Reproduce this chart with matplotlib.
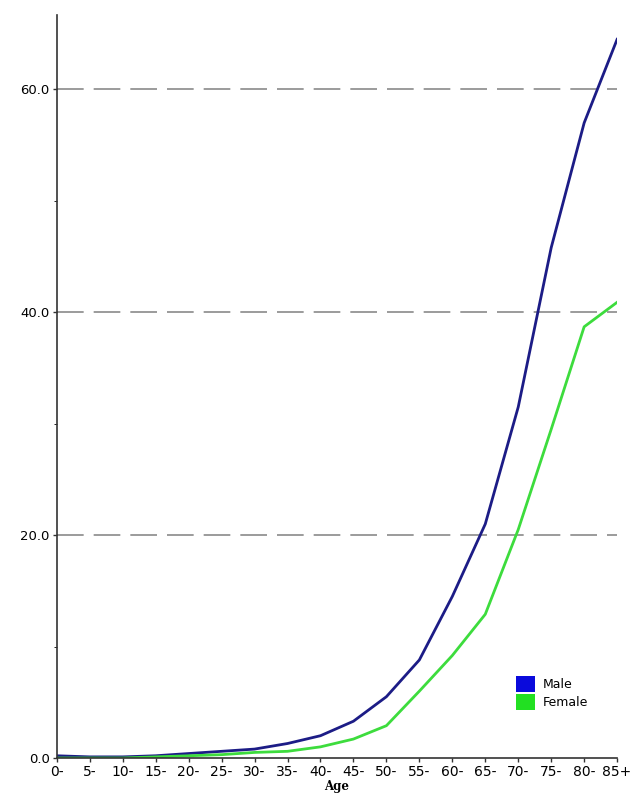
import numpy as np
import matplotlib.pyplot as plt
from matplotlib.patches import Patch

# Age groups and rates
ages = ['0-', '5-', '10-', '15-', '20-', '25-', '30-', '35-', '40-',
        '45-', '50-', '55-', '60-', '65-', '70-', '75-', '80-', '85+']
male = [0.2, 0.1, 0.1, 0.2, 0.4, 0.6, 0.8, 1.3, 2.0,
        3.3, 5.5, 8.8, 14.5, 21.0, 31.5, 45.8, 57.0, 64.5]
female = [0.0, 0.0, 0.0, 0.1, 0.2, 0.3, 0.5, 0.6, 1.0,
          1.7, 2.9, 6.0, 9.2, 12.9, 20.5, 29.5, 38.7, 40.9]
y_ticks = [0, 20, 40, 60]

male_line = '#1c1c86'
female_line = '#3ddc3d'

fig = plt.figure(figsize=(6.31, 8), dpi=100)
ax = fig.add_axes([0.090, 0.0525, 0.888, 0.929])

x = np.arange(len(ages))
ax.plot(x, male, color=male_line, lw=2)
ax.plot(x, female, color=female_line, lw=2)

# dashed horizontal grid
for v in y_ticks[1:]:
    ax.axhline(v, color='#8a8a8a', lw=1.2, dashes=(16, 6), zorder=0)

ax.set_xlim(0, 17)
ax.set_ylim(0, 66.7)
ax.set_xticks(x)
ax.set_xticklabels(ages, fontsize=10)
ax.set_yticks(y_ticks)
ax.set_yticklabels([f'{v:.1f}' for v in y_ticks], fontsize=9.5)
ax.set_yticks([10, 30, 50], minor=True)
ax.tick_params(axis='both', length=3, width=1, color='#333333', pad=2)
ax.tick_params(axis='y', which='minor', length=2)

for s in ['top', 'right']:
    ax.spines[s].set_visible(False)
for s in ['left', 'bottom']:
    ax.spines[s].set_color('#333333')
    ax.spines[s].set_linewidth(1.2)

ax.set_xlabel('Age', fontsize=8.5, fontweight='bold', family='DejaVu Serif', labelpad=1)

handles = [Patch(facecolor='#0a0adc', edgecolor='none', label='Male'),
           Patch(facecolor='#22e022', edgecolor='none', label='Female')]
ax.legend(handles=handles, loc='lower right', bbox_to_anchor=(0.968, 0.05),
          frameon=False, fontsize=9, handlelength=1.5, handleheight=1.6,
          handletextpad=0.6, labelspacing=0.15)

fig.savefig('out.png', dpi=100)
